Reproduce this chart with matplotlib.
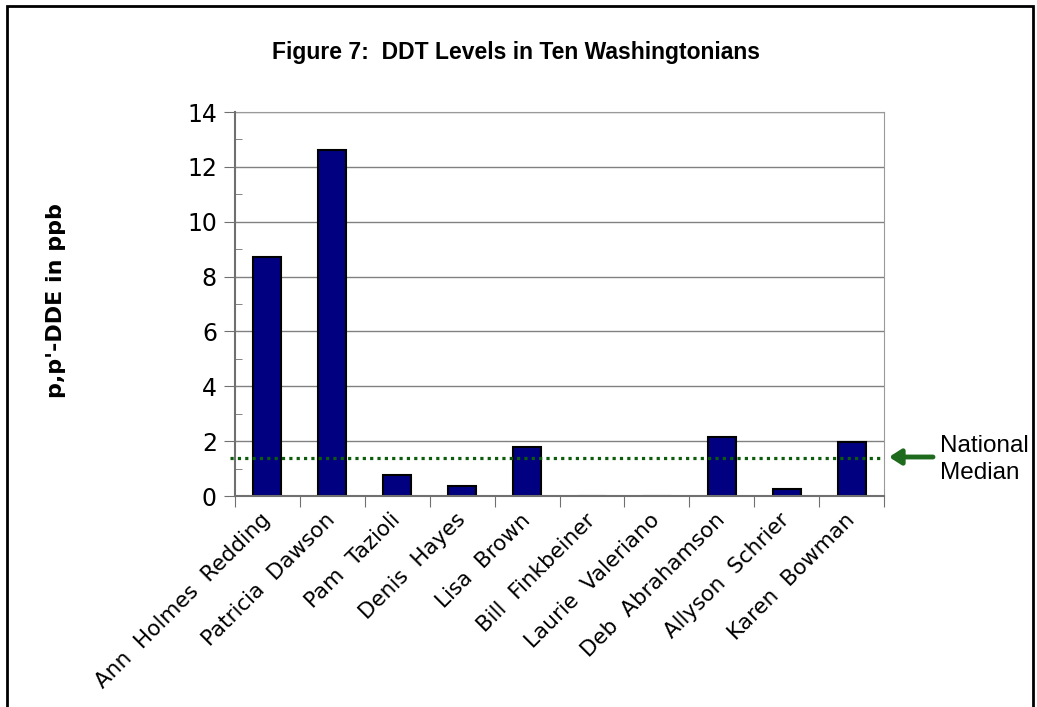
import matplotlib
matplotlib.use("Agg")
import matplotlib.pyplot as plt
from matplotlib.patches import Rectangle
from matplotlib.ticker import MultipleLocator

# ── data ──────────────────────────────────────────────────────────────
names = [
    "Ann  Holmes  Redding", "Patricia  Dawson", "Pam  Tazioli", "Denis  Hayes",
    "Lisa  Brown", "Bill  Finkbeiner", "Laurie  Valeriano", "Deb  Abrahamson",
    "Allyson  Schrier", "Karen  Bowman",
]
dde_ppb = [8.72, 12.6, 0.75, 0.38, 1.8, 0.0, 0.0, 2.16, 0.24, 1.96]
national_median = 1.4

W, H = 1037, 707
fig = plt.figure(figsize=(W / 100, H / 100), dpi=100)
ax = fig.add_axes([235 / W, 1 - 496 / H, (884 - 235) / W, (496 - 112) / H])

x = list(range(len(names)))
ax.bar(x, dde_ppb, width=0.43, color="#000080", edgecolor="black",
       linewidth=1.5, zorder=3)

ax.set_xlim(-0.5, len(names) - 0.5)
ax.set_ylim(0, 14)
ax.yaxis.set_major_locator(MultipleLocator(2))
ax.yaxis.set_minor_locator(MultipleLocator(1))
ax.grid(axis="y", which="major", color="#808080", linewidth=1, zorder=0)

for side in ("top", "right"):
    ax.spines[side].set_color("#9a9a9a")
for side in ("left", "bottom"):
    ax.spines[side].set_color("#707070")
    ax.spines[side].set_linewidth(1.5)
    ax.spines[side].set_zorder(5)

ax.tick_params(axis="y", which="major", direction="out", length=8,
               color="#707070", labelsize=17, pad=5)
ax.tick_params(axis="y", which="minor", direction="in", length=5, color="#707070")

# category boundaries get the tick marks, names sit at the centres
ax.set_xticks([i - 0.5 for i in range(len(names) + 1)])
ax.set_xticklabels([])
ax.set_xticks(x, minor=True)
ax.set_xticklabels(names, minor=True, rotation=45, ha="right", va="center",
                   rotation_mode="anchor", fontsize=15.5)
ax.tick_params(axis="x", which="major", direction="out", length=8, color="#707070")
ax.tick_params(axis="x", which="minor", length=0, pad=15)

# national median dotted line
ax.plot([-0.58, 9.47], [national_median, national_median], color="#0b5d0b",
        linewidth=2.3, linestyle=(0, (1, 1.3)), clip_on=False, zorder=4)

# ── annotations ───────────────────────────────────────────────────────
fig.text(516 / W, 1 - 52 / H, "Figure 7:  DDT Levels in Ten Washingtonians",
         fontfamily="Liberation Sans", fontweight="bold", fontsize=16.5,
         ha="center", va="center")
fig.text(56 / W, 1 - 301 / H, "p,p'-DDE in ppb", rotation=90,
         fontweight="bold", fontsize=16, ha="center", va="center")

ax.annotate("", xy=(889 / W, 1 - 457 / H), xytext=(933 / W, 1 - 457 / H),
            xycoords="figure fraction", textcoords="figure fraction",
            arrowprops=dict(arrowstyle="-|>,head_length=0.7,head_width=0.45",
                            color="#1e6b1e", lw=3.5, shrinkA=0, shrinkB=0))
fig.text(940 / W, 1 - 446 / H, "National", fontfamily="Liberation Sans",
         fontsize=17.5, va="center", ha="left")
fig.text(940 / W, 1 - 473 / H, "Median", fontfamily="Liberation Sans",
         fontsize=17.5, va="center", ha="left")

# outer frame
fig.add_artist(Rectangle((7 / W, -0.05), (1033 - 7) / W, 1.05 - 6 / H,
                         transform=fig.transFigure, fill=False,
                         edgecolor="black", linewidth=2))

fig.savefig("out.png", dpi=100)
